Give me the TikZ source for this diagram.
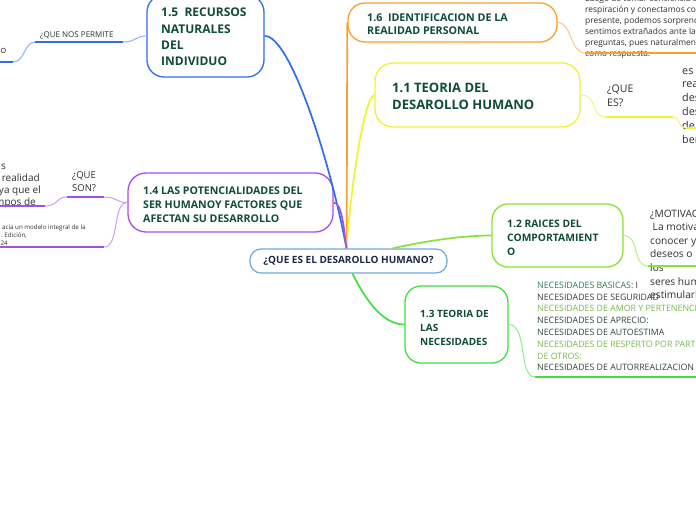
\documentclass[tikz,border=0pt]{standalone}
\usepackage{fontspec}
\setmainfont{Open Sans}
\definecolor{hdrc}{HTML}{114B3B}
\definecolor{navyc}{HTML}{1B2A4A}
\definecolor{txtc}{HTML}{303030}
\definecolor{cblue}{HTML}{2F6CEE}
\definecolor{cbluel}{HTML}{8DB0F6}
\definecolor{corange}{HTML}{F6A22E}
\definecolor{corangel}{HTML}{F9C888}
\definecolor{cyellow}{HTML}{F2F230}
\definecolor{cyellowl}{HTML}{F4F47A}
\definecolor{cpurple}{HTML}{A64DEE}
\definecolor{cpurplel}{HTML}{CF9CF6}
\definecolor{clime}{HTML}{8AE236}
\definecolor{climel}{HTML}{B9EE88}
\definecolor{cgreen}{HTML}{40E040}
\definecolor{cgreenl}{HTML}{8EEE8E}
\definecolor{ccentral}{HTML}{6FA8DC}
\definecolor{ngreen}{HTML}{357A50}
\definecolor{ndark}{HTML}{34443A}
\definecolor{nlight}{HTML}{78B94A}
\begin{document}
\begin{tikzpicture}[x=1pt,y=-1pt,
  topic/.style={draw, line width=1.3pt, fill=white, inner sep=0pt},
  hdr/.style={inner sep=0pt, anchor=base west, align=left, text=hdrc},
  ftext/.style={inner sep=0pt, anchor=base west, align=left, text=txtc},
  rtext/.style={inner sep=0pt, anchor=base east, text=txtc, font=\fontsize{10}{12}\selectfont},
  mainlink/.style={line width=1.7pt},
  sublink/.style={line width=1pt},
  uline/.style={line width=1.8pt}]
\useasboundingbox (0,0) rectangle (696,520);
\clip (0,0) rectangle (696,520);
\fill[white] (0,0) rectangle (696,520);

% topics (text nodes are placed by the baseline of their last line)
\node[topic, draw=cblue, rounded corners=17pt, minimum width=117pt, minimum height=82pt] (b15) at (205.5,36) {};
\node[hdr, font=\bfseries\fontsize{12}{16.4}\selectfont] (b15t) at (161,65.9) {1.5\ \ RECURSOS\\NATURALES\\DEL\\INDIVIDUO};

\node[topic, draw=corange, rounded corners=17pt, minimum width=209pt, minimum height=39pt] (b16) at (452.5,22.5) {};
\node[hdr, font=\bfseries\fontsize{10.7}{13.3}\selectfont] (b16t) at (367,34.3) {1.6\ \ IDENTIFICACION DE LA\\REALIDAD PERSONAL};

\node[topic, draw=cyellow, rounded corners=18pt, minimum width=205pt, minimum height=64pt] (b11) at (477.5,95) {};
\node[hdr, font=\bfseries\fontsize{13}{17.2}\selectfont] (b11t) at (392,109.9) {1.1 TEORIA DEL\\DESAROLLO HUMANO};

\node[topic, draw=cpurple, rounded corners=18pt, minimum width=205pt, minimum height=59pt] (b14) at (230.5,202.5) {};
\node[hdr, font=\bfseries\fontsize{10.6}{14}\selectfont] (b14t) at (143,222) {1.4 LAS POTENCIALIDADES DEL\\SER HUMANOY FACTORES QUE\\AFECTAN SU DESARROLLO};

\node[topic, draw=clime, rounded corners=16pt, minimum width=131pt, minimum height=63pt] (b12) at (557.5,235.5) {};
\node[hdr, font=\bfseries\fontsize{10.3}{14}\selectfont] (b12t) at (507,255) {1.2 RAICES DEL\\COMPORTAMIENT\\O};

\node[topic, draw=cgreen, rounded corners=16pt, minimum width=103pt, minimum height=77pt] (b13) at (456.5,324.5) {};
\node[hdr, font=\bfseries\fontsize{10}{14}\selectfont] (b13t) at (420,345) {1.3 TEORIA DE\\LAS\\NECESIDADES};

\node[topic, draw=ccentral, line width=1.2pt, rounded corners=11pt, minimum width=197pt, minimum height=24pt, text=navyc, font=\bfseries\fontsize{10}{12}\selectfont] (c) at (348.5,261) {¿QUE ES EL DESAROLLO HUMANO?};

% free texts
\node[ftext, font=\fontsize{8}{10}\selectfont] (q15) at (40,37.7) {¿QUE NOS PERMITE};
\node[ftext, font=\fontsize{9.5}{12}\selectfont] (t15) at (0.5,53) {o};

\node[ftext, font=\fontsize{8.4}{11}\selectfont] (t16) at (585,56.3) {Luego de tomar conciencia de la\\respiración y conectamos con el\\presente, podemos sorprendernos\\sentimos extrañados ante las\\preguntas, pues naturalmente\\como respuesta.};

\node[ftext, font=\fontsize{10.5}{13.5}\selectfont] (q11) at (607,106.2) {¿QUE\\ES?};
\node[ftext, font=\fontsize{10.8}{13.8}\selectfont] (t11) at (682,143) {es cuando\\realizamos\\desarrollos\\desde\\de\\beneficio};

\node[ftext, font=\fontsize{9.5}{12.5}\selectfont] (q14) at (72,191.2) {¿QUE\\SON?};
\node[rtext] (t14a) at (6,169) {s};
\node[rtext] (t14b) at (40,181.5) {realidad};
\node[rtext] (t14c) at (41,193.5) {ya que el};
\node[rtext] (t14d) at (36,205) {mpos de};
\node[ftext, font=\fontsize{6.2}{8.3}\selectfont] (t14e) at (2,229) {acia un modelo integral de la};
\node[ftext, font=\fontsize{6.2}{8.3}\selectfont] (t14f) at (0.5,245.6) {. Edición,\\24};

\node[ftext, font=\fontsize{10.2}{13.6}\selectfont] (t12) at (650,298.6) {¿MOTIVACIÓN?\\\hspace{2.5pt}La motivación es\\conocer y\\deseos o la\\los\\seres humanos\\estimularlos};

\node[ftext, font=\fontsize{8.8}{11.8}\selectfont] (t13) at (537,370.9) {\textcolor{ngreen}{NECESIDADES BASICAS}\textcolor{red}{:} I\\
\textcolor{ndark}{NECESIDADES DE SEGURIDAD}\\
\textcolor{nlight}{NECESIDADES DE AMOR Y PERTENENCIA}\\
\textcolor{ndark}{NECESIDADES DE APRECIO:}\\
\textcolor{ndark}{NECESIDADES DE AUTOESTIMA}\\
\textcolor{nlight}{NECESIDADES DE RESPERTO POR PARTE}\\
\textcolor{nlight}{DE OTROS:}\\
\textcolor{ndark}{NECESIDADES DE AUTORREALIZACION}};

% coordinates for sub-branches
\coordinate (q15r) at (123,42);
\coordinate (q15l) at (35,42);
\coordinate (t15r) at (13,62);
\coordinate (t15l) at (-1,62);
\coordinate (t16l) at (585,53);
\coordinate (t16r) at (697,53);
\coordinate (q11l) at (606,117);
\coordinate (q11r) at (673,117);
\coordinate (t11l) at (686,128);
\coordinate (t11r) at (697,128);
\coordinate (q14r) at (104,197);
\coordinate (q14l) at (67,197);
\coordinate (t14r) at (45,206);
\coordinate (t14l) at (-1,206);
\coordinate (t14er) at (104,247);
\coordinate (t14el) at (-1,247);
\coordinate (t12l) at (648,266);
\coordinate (t12r) at (697,266);
\coordinate (t13l) at (535,377);
\coordinate (t13r) at (697,377);

% main links
\draw[mainlink, cblue] ([xshift=-2pt]c.north) .. controls (330,160) and (290,35) .. (b15.east);
\draw[mainlink, corange] ([xshift=-2pt]c.north) .. controls (347,200) and (347,60) .. (b16.west);
\draw[mainlink, cyellow] ([xshift=-2pt]c.north) .. controls (352,175) and (365,97) .. (b11.west);
\draw[mainlink, cpurple] ([xshift=-2pt]c.north) .. controls (344,230) and (342,202.5) .. (b14.east);
\draw[mainlink, clime] ([xshift=44pt]c.north) .. controls (430,240) and (465,235.5) .. (b12.west);
\draw[mainlink, cgreen] ([xshift=4pt]c.south) .. controls (368,305) and (385,324.5) .. (b13.west);

% sub-branches
\draw[sublink, cbluel] (b15.west) .. controls (135,36) and (136,42) .. (q15r);
\draw[uline, cblue] (q15r) -- (q15l);
\draw[sublink, cbluel] (q15l) .. controls (24,42) and (25,62) .. (t15r);
\draw[uline, cblue] (t15r) -- (t15l);

\draw[sublink, corangel] (b16.east) .. controls (572,22.5) and (570,53) .. (t16l);
\draw[uline, corange] (t16l) -- (t16r);

\draw[sublink, cyellowl] (b11.east) .. controls (598,95) and (590,117) .. (q11l);
\draw[uline, cyellow] (q11l) -- (q11r);
\draw[sublink, cyellowl] (q11r) .. controls (680,117) and (678,128) .. (t11l);
\draw[uline, cyellow] (t11l) -- (t11r);

\draw[sublink, cpurplel] (b14.west) .. controls (115,202.5) and (118,197) .. (q14r);
\draw[uline, cpurple] (q14r) -- (q14l);
\draw[sublink, cpurplel] (q14l) .. controls (56,197) and (58,206) .. (t14r);
\draw[uline, cpurple] (t14r) -- (t14l);
\draw[sublink, cpurplel] (b14.west) .. controls (112,202.5) and (120,247) .. (t14er);
\draw[uline, cpurple] (t14er) -- (t14el);

\draw[sublink, climel] (b12.east) .. controls (640,235.5) and (632,266) .. (t12l);
\draw[uline, clime] (t12l) -- (t12r);

\draw[sublink, cgreenl] (b13.east) .. controls (528,324.5) and (518,377) .. (t13l);
\draw[uline, cgreen] (t13l) -- (t13r);
\end{tikzpicture}
\end{document}
